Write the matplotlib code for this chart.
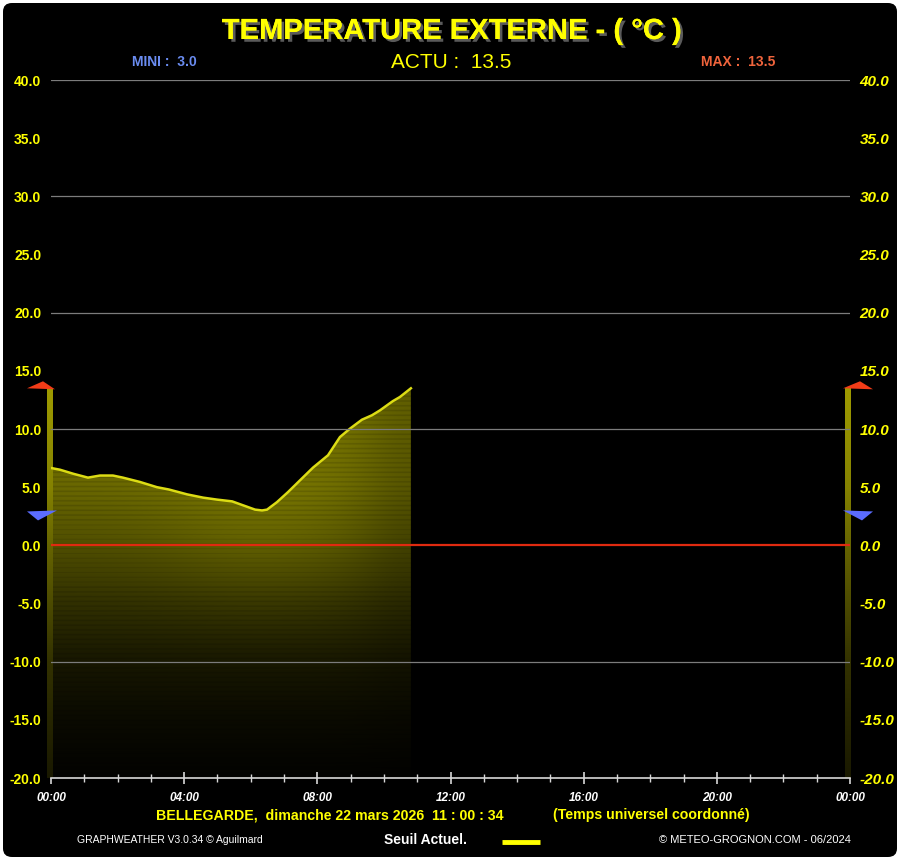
import numpy as np
import matplotlib
matplotlib.use('Agg')
import matplotlib.pyplot as plt
import matplotlib.patheffects as pe
from matplotlib.patches import Polygon, FancyBboxPatch
from matplotlib.transforms import ScaledTranslation

# --- data -------------------------------------------------------------
hours = [0.00, 0.27, 0.66, 1.11, 1.47, 1.86, 2.16, 2.67, 3.18, 3.54, 4.09,
         4.57, 4.99, 5.44, 5.77, 6.13, 6.34, 6.49, 6.79, 7.12, 7.48, 7.87,
         8.32, 8.68, 8.98, 9.34, 9.64, 9.88, 10.27, 10.48, 10.81]
temp = [6.65, 6.5, 6.16, 5.82, 6.0, 6.0, 5.82, 5.45, 5.0, 4.8, 4.38,
        4.1, 3.93, 3.78, 3.44, 3.07, 3.0, 3.07, 3.72, 4.58, 5.59, 6.68,
        7.74, 9.31, 10.03, 10.8, 11.18, 11.6, 12.4, 12.75, 13.5]
t_min, t_max, t_actu = 3.0, 13.5, 13.5

y_ticks = [40, 35, 30, 25, 20, 15, 10, 5, 0, -5, -10, -15, -20]
grid_vals = [40, 30, 20, 10, -10]
x_major = [0, 4, 8, 12, 16, 20, 24]
x_labels = ['00:00', '04:00', '08:00', '12:00', '16:00', '20:00', '00:00']

title = 'TEMPERATURE EXTERNE - ( °C )'
place = 'BELLEGARDE,  dimanche 22 mars 2026  11 : 00 : 34'
tz_text = '(Temps universel coordonné)'

# --- style ------------------------------------------------------------
FONT = ['Liberation Sans', 'DejaVu Sans']
YEL = '#ffff00'
plt.rcParams['font.family'] = FONT

W, H = 900, 860
fig = plt.figure(figsize=(9, 8.6), dpi=100)
fig.patch.set_facecolor('#ffffff')
fig.patches.append(FancyBboxPatch((3 / W, 3 / H), 1 - 6 / W, 1 - 6 / H,
                                  boxstyle='round,pad=0,rounding_size=0.01',
                                  transform=fig.transFigure, fc='black', ec='none',
                                  zorder=-10))


def px(x, y):
    return x / W, 1 - y / H


ax = fig.add_axes([51 / W, 1 - 778 / H, 799 / W, 698 / H])
ax.set_facecolor('none')
ax.set_xlim(0, 24)
ax.set_ylim(-20, 40)

# gradient fill under the curve
nx, ny = 300, 500
xx = np.linspace(0, hours[-1], nx)
yy = np.linspace(-20, max(temp) + 0.5, ny)
X, Y = np.meshgrid(xx, yy)
bright = np.interp(Y, [-20, -15, -10, -5, 0, 5, 14],
                   [0.01, 0.04, 0.09, 0.19, 0.31, 0.41, 0.47])
glow = 1 + 0.22 * np.exp(-((X - 6.3) / 3.2) ** 2 - ((Y + 1) / 9) ** 2)
edge = 1 - 0.18 * np.exp(-((X - hours[-1]) / 1.5) ** 2)
stripes = 1 - 0.13 * (np.sin(Y / 0.41 * 2 * np.pi) > 0.6)
b = np.clip(bright * glow * edge * stripes, 0, 1)
img = np.dstack([b, b * 0.98, np.zeros_like(b)])
im = ax.imshow(img, extent=[0, hours[-1], -20, yy[-1]], origin='lower',
               aspect='auto', zorder=1, interpolation='bilinear')
poly = Polygon(list(zip(hours, temp)) + [(hours[-1], -20), (hours[0], -20)],
               closed=True, transform=ax.transData, fc='none', ec='none')
ax.add_patch(poly)
im.set_clip_path(poly)

ax.plot(hours, temp, color='#dcdc14', lw=1.8, zorder=4)

# side bars (min-max level gauges)
bar_y = np.linspace(-20, t_max, 200)
bar_b = np.interp(bar_y, [-20, -10, 0, 5, 13.5], [0.1, 0.2, 0.4, 0.52, 0.62])
bar_img = np.stack([bar_b, bar_b * 0.98, np.zeros_like(bar_b)], axis=-1)[:, None, :].repeat(3, axis=1)
for x0, x1 in [(-0.12, 0.06), (23.85, 24.03)]:
    ax.imshow(bar_img, extent=[x0, x1, -20, t_max], origin='lower', aspect='auto',
              zorder=2, clip_on=False)
ax.set_xlim(0, 24)
ax.set_ylim(-20, 40)

# grid lines and zero line
for g in grid_vals:
    ax.axhline(g, color='#7c7c7c', lw=0.9, zorder=5)
ax.axhline(0, color='#e02a10', lw=1.6, zorder=5)

# min / max markers
def marker(xd, yd, verts, color):
    tr = fig.dpi_scale_trans + ScaledTranslation(xd, yd, ax.transData)
    p = Polygon(np.array(verts) / 100.0, closed=True, transform=tr, fc=color,
                ec='none', clip_on=False, zorder=6)
    ax.add_patch(p)


RED = '#f23c18'
BLUE = '#5b6cff'
marker(0, t_max, [(-24, 0), (-8, 7), (4, -1)], RED)
marker(0, t_min, [(-24, -1), (6, 0), (-13, -10)], BLUE)
marker(24, t_max, [(-7, 0), (10, 7), (23, -1)], RED)
marker(24, t_min, [(-7, 0), (23, -1), (12, -10)], BLUE)

# axes decorations
for s in ['left', 'right', 'top']:
    ax.spines[s].set_visible(False)
ax.spines['bottom'].set_color('#d8d8d8')
ax.spines['bottom'].set_linewidth(1.2)
ax.spines['bottom'].set_zorder(6)

ax.set_xticks(x_major)
ax.set_xticklabels(x_labels)
ax.set_xticks(range(25), minor=True)
ax.tick_params(axis='x', which='major', direction='inout', length=8, width=1.2,
               color='#d8d8d8', pad=6, labelsize=8.5, labelcolor='white')
ax.tick_params(axis='x', which='minor', direction='inout', length=6, width=1,
               color='#d8d8d8')
for lab in ax.get_xticklabels():
    lab.set_fontweight('bold')
    lab.set_fontstyle('italic')

ax.set_yticks(y_ticks)
ax.set_yticklabels([f'{v:.1f}' for v in y_ticks])
ax.tick_params(axis='y', which='both', length=0, pad=8, labelsize=10,
               labelcolor=YEL, labelright=True)
ax.tick_params(axis='y', which='both', pad=7)
for t in ax.yaxis.get_major_ticks():
    t.label1.set_fontweight('bold')
    t.label2.set_fontweight('bold')
    t.label2.set_fontstyle('italic')
    t.label2.set_fontsize(11)

# --- texts ------------------------------------------------------------
fig.text(*px(452, 31), title, color=YEL, fontsize=21, fontweight='bold',
         ha='center', va='center',
         path_effects=[pe.withSimplePatchShadow(offset=(2, -2), shadow_rgbFace='#5a5a5a', alpha=1),
                       pe.Normal()])
fig.text(*px(451, 62), f'ACTU :  {t_actu:.1f}', color=YEL, fontsize=15,
         ha='center', va='center')
fig.text(*px(164, 62), f'MINI :  {t_min:.1f}', color='#6a8cf0', fontsize=10,
         fontweight='bold', ha='center', va='center')
fig.text(*px(738, 62), f'MAX :  {t_max:.1f}', color='#f0643c', fontsize=10,
         fontweight='bold', ha='center', va='center')

fig.text(*px(330, 815), place, color=YEL, fontsize=10.2, fontweight='bold',
         ha='center', va='center')
fig.text(*px(651, 815), tz_text, color=YEL, fontsize=10.2, fontweight='bold',
         ha='center', va='center')

fig.text(*px(170, 840), 'GRAPHWEATHER V3.0.34 © Aguilmard', color='white', fontsize=7.5,
         ha='center', va='center')
fig.text(*px(425, 840), 'Seuil Actuel.', color='white', fontsize=10, fontweight='bold',
         ha='center', va='center')
fig.add_artist(plt.Line2D([502 / W, 540 / W], [1 - 842 / H, 1 - 842 / H],
                          color=YEL, lw=3.5, solid_capstyle='butt',
                          transform=fig.transFigure))
fig.text(*px(755, 840), '© METEO-GROGNON.COM - 06/2024', color='white', fontsize=8,
         ha='center', va='center')

fig.savefig('out.png', dpi=100, facecolor=fig.get_facecolor())
